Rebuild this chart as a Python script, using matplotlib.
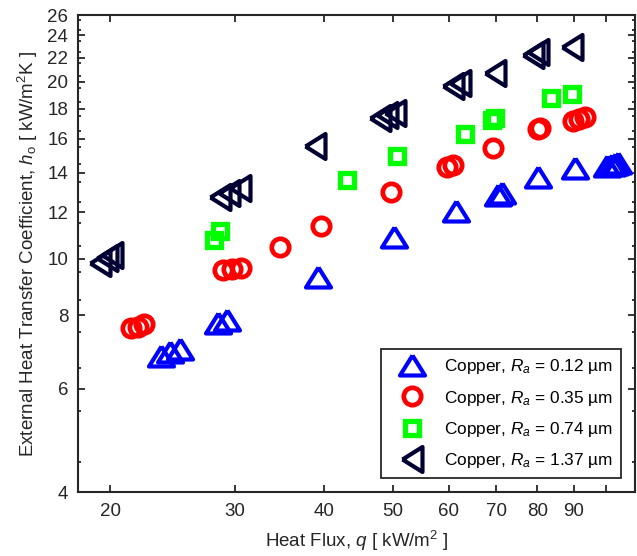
import matplotlib
matplotlib.use("Agg")
import matplotlib.pyplot as plt
from matplotlib.markers import MarkerStyle
from matplotlib.ticker import FixedLocator, NullFormatter, NullLocator

plt.rcParams["font.family"] = ["Liberation Sans", "DejaVu Sans"]
plt.rcParams["mathtext.fontset"] = "custom"
plt.rcParams["mathtext.rm"] = "Liberation Sans"
plt.rcParams["mathtext.it"] = "Liberation Sans:italic"

# Heat flux q [kW/m^2] and heat transfer coefficient h_o [kW/m^2K] per surface
q_012 = [23.6, 24.3, 25.1, 28.4, 29.2, 39.2, 50.2, 61.4, 70.5, 71.3, 80.2, 90.4, 100.2, 101.8, 102.9, 104.0]
h_012 = [6.82, 6.93, 7.02, 7.75, 7.85, 9.31, 10.87, 12.06, 12.83, 12.95, 13.75, 14.25, 14.38, 14.43, 14.50, 14.55]

q_035 = [21.4, 21.9, 22.3, 28.85, 29.7, 30.6, 34.7, 39.7, 49.8, 59.6, 60.9, 69.3, 80.2, 80.6, 89.9, 91.6, 93.4]
h_035 = [7.62, 7.64, 7.73, 9.56, 9.60, 9.62, 10.48, 11.36, 12.97, 14.34, 14.43, 15.41, 16.60, 16.72, 17.17, 17.27, 17.41]

q_074 = [28.05, 28.6, 43.2, 50.8, 63.3, 69.0, 69.7, 83.5, 89.4]
h_074 = [10.75, 11.15, 13.61, 14.97, 16.30, 17.22, 17.34, 18.75, 19.07]

q_137 = [19.36, 19.8, 20.1, 28.6, 29.4, 30.5, 38.9, 48.0, 49.1, 50.4, 60.9, 62.2, 69.7, 78.9, 80.2, 89.4]
h_137 = [9.81, 10.01, 10.14, 12.74, 12.91, 13.17, 15.57, 17.34, 17.57, 17.69, 19.68, 19.89, 20.69, 22.23, 22.52, 22.97]

labels = [
    r"Copper, $R_a$ = 0.12 µm",
    r"Copper, $R_a$ = 0.35 µm",
    r"Copper, $R_a$ = 0.74 µm",
    r"Copper, $R_a$ = 1.37 µm",
]

x_ticks = [20, 30, 40, 50, 60, 70, 80, 90, 100]
x_ticklabels = ["20", "30", "40", "50", "60", "70", "80", "90", ""]
y_ticks = [4, 6, 8, 10, 12, 14, 16, 18, 20, 22, 24, 26]

# flattened triangles (wider than tall)
tri_up = MarkerStyle([(0, 0.8), (-1, -0.8), (1, -0.8), (0, 0.8)], joinstyle="miter")
tri_left = MarkerStyle([(-0.8, 0), (0.8, 1), (0.8, -1), (-0.8, 0)], joinstyle="miter")

fig = plt.figure(figsize=(6.37, 5.56), dpi=100)
ax = fig.add_axes([0.1225, 0.1151, 0.8745, 0.8579])

common = dict(linestyle="none", markerfacecolor="none")
ax.plot(q_012, h_012, marker=tri_up, markersize=18, markeredgewidth=3.0,
        markeredgecolor="#0000ff", label=labels[0], **common)
ax.plot(q_035, h_035, marker="o", markersize=12.5, markeredgewidth=3.4,
        markeredgecolor="#ff0000", label=labels[1], **common)
ax.plot(q_074, h_074, marker="s", markersize=10.5, markeredgewidth=3.8,
        markeredgecolor="#00ff00", label=labels[2], **common)
ax.plot(q_137, h_137, marker=tri_left, markersize=18, markeredgewidth=3.0,
        markeredgecolor="#000033", label=labels[3], **common)

ax.set_xscale("log")
ax.set_yscale("log")
ax.set_xlim(18.03, 109.8)
ax.set_ylim(4, 26)

ax.xaxis.set_major_locator(FixedLocator(x_ticks))
ax.set_xticklabels(x_ticklabels)
ax.xaxis.set_minor_locator(NullLocator())
ax.xaxis.set_minor_formatter(NullFormatter())

ax.yaxis.set_major_locator(FixedLocator(y_ticks))
ax.set_yticklabels([str(v) for v in y_ticks])
ax.yaxis.set_minor_locator(FixedLocator([v / 2 for v in range(9, 52, 2)]))
ax.yaxis.set_minor_formatter(NullFormatter())

for s in ax.spines.values():
    s.set_linewidth(1.5)
    s.set_color("#262626")

ax.tick_params(which="both", direction="in", top=True, right=True,
               colors="#262626", width=1.3, labelsize=13.5, labelcolor="#262626")
ax.tick_params(which="major", length=5)
ax.tick_params(which="minor", length=2.5)
ax.tick_params(axis="x", pad=8)
ax.tick_params(axis="y", pad=7)

ax.set_xlabel(r"Heat Flux, $q$ [ kW/m$^2$ ]", fontsize=13.5, color="#262626", labelpad=6)
ax.set_ylabel(r"External Heat Transfer Coefficient, $h_\mathregular{o}$ [ kW/m$^2$K ]",
              fontsize=13.5, color="#262626", labelpad=5)

leg = ax.legend(loc="lower right", fontsize=12.4, frameon=True, fancybox=False,
                edgecolor="#262626", borderaxespad=0.8, handletextpad=0.55,
                labelspacing=0.7, borderpad=0.5, handlelength=2.6, numpoints=1)
leg.get_frame().set_linewidth(1.3)
leg.get_frame().set_alpha(1)

fig.savefig("out.png", dpi=100)
